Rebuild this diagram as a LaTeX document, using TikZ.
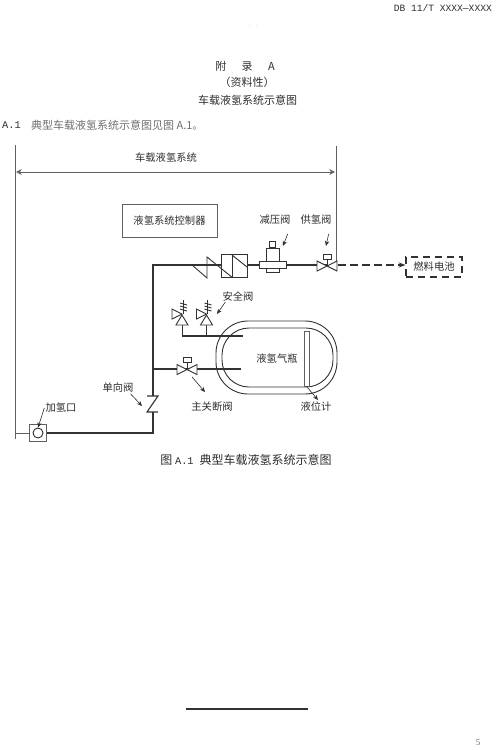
\documentclass[tikz,border=0pt]{standalone}
\usepackage{fontspec}
\setmainfont{Liberation Serif}
\setmonofont{Liberation Mono}
\newfontfamily\cjk{Noto Sans CJK SC}
\usetikzlibrary{positioning,arrows.meta,calc}
\definecolor{ink}{RGB}{45,45,45}
\definecolor{pipe}{RGB}{50,50,50}
\definecolor{frameline}{RGB}{95,95,95}
\definecolor{bodytext}{RGB}{110,110,110}
\tikzset{
  label/.style={font=\fontsize{10.3}{12}\selectfont\cjk, text=ink, inner sep=0pt},
  pagetext/.style={font=\fontsize{11}{13}\selectfont\cjk, text=ink, inner sep=0pt},
  pipeline/.style={line width=1.1pt, draw=pipe},
  part/.style={line width=0.9pt, draw=pipe, fill=white},
  stroke/.style={line width=0.9pt, draw=pipe},
  thin frame/.style={line width=0.7pt, draw=frameline},
  leader/.style={-{Stealth[length=1.8mm,width=1.5mm]}, line width=0.6pt, draw=ink},
  span/.style={{Stealth[length=2mm,width=2mm,open]}-{Stealth[length=2mm,width=2mm,open]}, line width=0.9pt, draw=frameline},
  butterfly/.pic={
    \draw[part] (-10,-5) -- (10,5) -- (10,-5) -- (-10,5) -- cycle;
    \draw[part] (0,0) -- (0,-7);
    \draw[part] (-4,-12) rectangle (4,-7);
  },
  reliefvalve/.pic={
    \draw[stroke] (0,11) -- (0,22);
    \draw[part] (-6,11) -- (6,11) -- (0,1) -- cycle;
    \draw[part] (-10,-5) -- (-10,5) -- (0,0) -- cycle;
    \draw[stroke] (1,0) -- (1,-14);
    \draw[stroke] (-2,-11) -- (5,-9) (-2,-8) -- (5,-6) (-2,-5) -- (5,-3);
  },
}
\begin{document}
\begin{tikzpicture}[x=1pt,y=-1pt]
  \useasboundingbox (0,0) rectangle (500,750);
  % page text
  \node[font=\fontsize{9.6}{11}\selectfont\ttfamily, text=ink, anchor=east, inner sep=0pt] (std) at (492,8) {DB 11/T XXXX—XXXX};
  \node[font=\fontsize{7}{8}\selectfont, text=black!25, inner sep=0pt] (specks) at (253,26) {.\hspace{6pt}.};
  \node[pagetext] (annex) at (245,66) {附\hspace{1.4em}录\hspace{1.4em}A};
  \node[pagetext] (kind) at (247,82) {（资料性）};
  \node[pagetext] (title) at (247.5,100) {车载液氢系统示意图};
  \node[font=\fontsize{10.3}{12}\selectfont\ttfamily, text=ink, anchor=west, inner sep=0pt] (intronum) at (2,125) {A.1};
  \node[font=\fontsize{11}{12}\selectfont\cjk, text=bodytext, anchor=west, inner sep=0pt, right=10pt of intronum] (intro) {典型车载液氢系统示意图见图 A.1。};
  \node[font=\fontsize{12}{14}\selectfont\cjk, text=ink, inner sep=0pt] (caption) at (246,460) {图 {\ttfamily\fontsize{10.3}{12}\selectfont A.1}\hspace{6pt}典型车载液氢系统示意图};
  \node[font=\fontsize{9}{11}\selectfont, text=bodytext, inner sep=0pt] (pageno) at (478,743) {5};
  \coordinate (ruleL) at (186,709);
  \coordinate (ruleR) at (308,709);
  \draw[pipeline] (ruleL) -- (ruleR);

  % system span
  \coordinate (sysTL) at (15,145);
  \coordinate (sysBL) at (15,439);
  \coordinate (sysTR) at (336,146);
  \coordinate (sysBR) at (336,268);
  \coordinate (spanL) at (16,172);
  \coordinate (spanR) at (335,172);
  \draw[thin frame] (sysTL) -- (sysBL);
  \draw[thin frame] (sysTR) -- (sysBR);
  \draw[span] (spanL) -- (spanR);
  \node[label] (system) at (166,158) {车载液氢系统};
  \node[label, draw=frameline, line width=0.7pt, minimum width=95pt, minimum height=33pt] (ctrl) at (169.5,220.5) {液氢系统控制器};

  % supply line
  \coordinate (corner) at (153,265);
  \coordinate (tee) at (153,369);
  \coordinate (chkTop) at (153,396);
  \coordinate (chkBot) at (153,412);
  \coordinate (elbow) at (153,433);
  \coordinate (fill) at (15,433);
  \coordinate (fillMid) at (38,433);
  \coordinate (supply) at (327,265);
  \draw[pipeline] (fillMid) -- (elbow) -- (chkBot);
  \draw[pipeline] (chkTop) -- (corner) -- (supply);
  \draw[thin frame] (fill) -- (fillMid);

  % filling port
  \node[draw=frameline, fill=white, line width=0.7pt, minimum size=17pt, inner sep=0pt] (portbox) at (fillMid) {};
  \node[circle, draw=ink, line width=0.9pt, minimum size=10pt, inner sep=0pt] (port) at (portbox.center) {};

  % check valve on the riser
  \draw[pipeline] (147,396) -- (158,396) -- (147,412) -- (158,412);

  % check valve and filter
  \node[draw=pipe, fill=white, line width=0.9pt, minimum width=26pt, minimum height=23pt, inner sep=0pt] (filter) at (234,265.5) {};
  \draw[stroke] (192,265) -- (207,278) -- (207,257) -- (231.7,277);
  \draw[stroke] (232,254) -- (232,277);
  \draw[stroke] (232,255) -- (247,267);

  % pressure reducer
  \node[part, draw, minimum width=13pt, minimum height=24pt, inner sep=0pt] (regbody) at (272.5,260) {};
  \node[part, draw, minimum width=6pt, minimum height=6pt, inner sep=0pt, above=0pt of regbody] (regcap) {};
  \node[part, draw, minimum width=27pt, minimum height=7pt, inner sep=0pt] (regbar) at (272.5,264.5) {};

  % supply valve, fuel cell
  \pic (supplyvalve) at (327,266) {butterfly};
  \coordinate (valveOut) at (338,265);
  \node[label, draw=pipe, dash pattern=on 7pt off 5pt, line width=1.1pt, minimum width=56pt, minimum height=20pt] (fuelcell) at (434,267) {燃料电池\hspace{4pt}};
  \draw[pipeline, dash pattern=on 8pt off 4pt, -{Stealth[length=2.4mm]}] (valveOut) -- (fuelcell.west |- valveOut);

  % tank
  \node[draw=pipe, line width=0.9pt, rounded corners=32pt, minimum width=121pt, minimum height=73pt, inner sep=0pt] (tank) at (276.5,357.5) {};
  \node[draw=pipe, line width=0.9pt, rounded corners=27pt, minimum width=111pt, minimum height=59pt, inner sep=0pt] (vessel) at (277.5,357.5) {};
  \node[label] (tanklabel) at (277,359) {液氢气瓶};
  \node[draw=frameline, line width=0.7pt, minimum width=5pt, minimum height=55pt, inner sep=0pt] (gauge) at (306.5,358.5) {};

  % relief and shut-off branches
  \coordinate (reliefA) at (182,336);
  \coordinate (reliefEnd) at (243,336);
  \coordinate (mainEnd) at (241,369);
  \draw[pipeline] (reliefA) -- (reliefEnd);
  \draw[pipeline] (tee) -- (mainEnd);
  \pic (reliefone) at (182,314) {reliefvalve};
  \pic (relieftwo) at (206.5,314) {reliefvalve};
  \pic (mainvalve) at (187,369.5) {butterfly};

  % callouts
  \node[label] (reducerlabel) at (275,220) {减压阀};
  \node[label] (supplylabel) at (316,220) {供氢阀};
  \node[label] (relieflabel) at (238,297) {安全阀};
  \node[label] (mainlabel) at (212,407) {主关断阀};
  \node[label] (levellabel) at (316,407) {液位计};
  \node[label] (checklabel) at (118,388) {单向阀};
  \node[label] (portlabel) at (61,408) {加氢口};
  \coordinate (reducertip) at (283,246);
  \coordinate (supplytip) at (326,246);
  \coordinate (relieftip) at (217,314);
  \coordinate (maintip) at (205,392);
  \coordinate (mainfrom) at (192,377);
  \coordinate (leveltip) at (318,400);
  \coordinate (checktip) at (142,406);
  \draw[leader] (reducerlabel.south east) ++(-3,9) -- (reducertip);
  \draw[leader] (supplylabel.south east) ++(-3,9) -- (supplytip);
  \draw[leader] (relieflabel.south west) ++(3,0) -- (relieftip);
  \draw[leader] (mainfrom) -- (maintip);
  \draw[leader] (gauge.south) -- (leveltip);
  \draw[leader] (checklabel.south east) ++(-3,1) -- (checktip);
  \draw[leader] (portlabel.west) ++(-1,0) -- (port.north);
\end{tikzpicture}
\end{document}
